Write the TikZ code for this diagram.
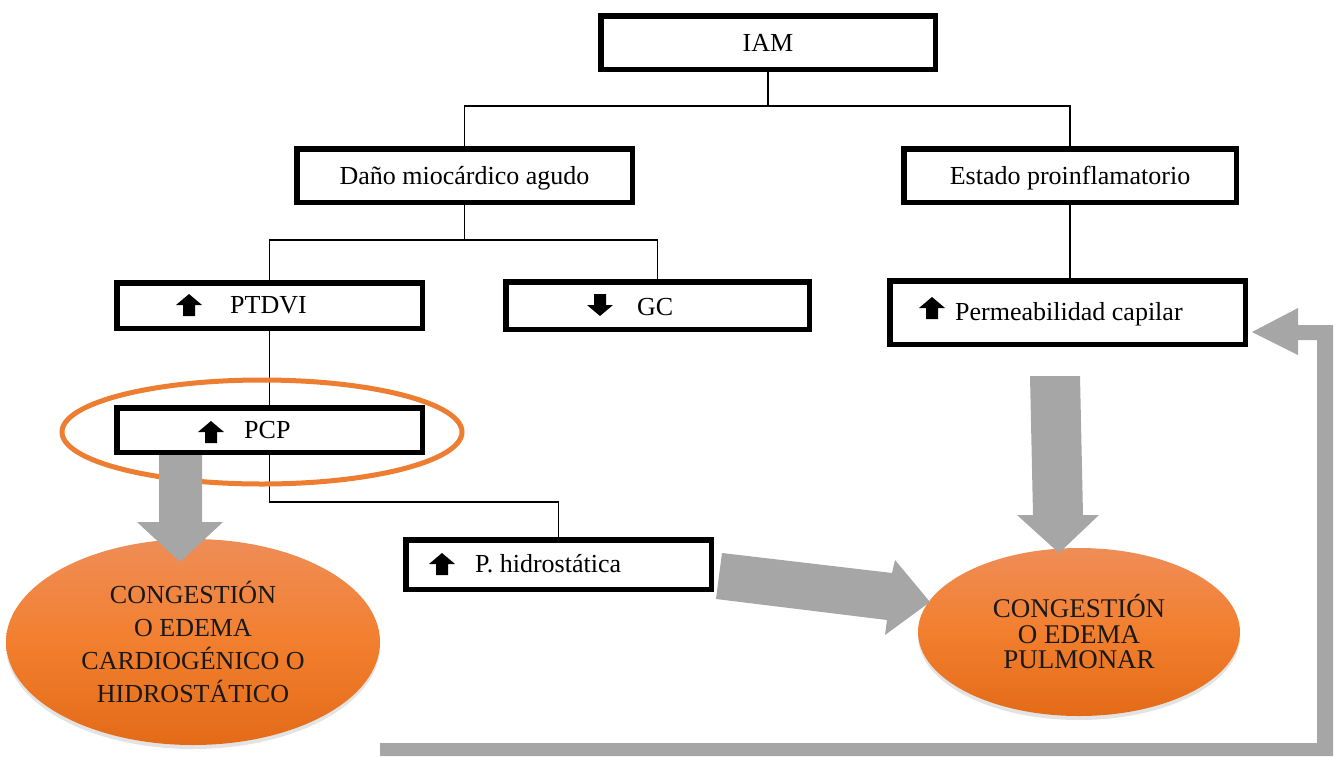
\documentclass[tikz,border=0pt]{standalone}
\usepackage{fontspec}
\setmainfont{Liberation Serif}
\usetikzlibrary{shapes.geometric,shadows,calc}
\definecolor{arrgray}{HTML}{A6A6A6}
\definecolor{ringc}{HTML}{ED7D31}
\definecolor{orTop}{HTML}{EF8D57}
\definecolor{orMid}{HTML}{F27F2E}
\definecolor{orBot}{HTML}{E36B18}
\begin{document}
\begin{tikzpicture}[x=1pt,y=-1pt,
  box/.style={draw=black, line width=5.5pt, fill=white, inner sep=0pt,
    font=\fontsize{26}{30}\selectfont, text height=18pt, text depth=0pt},
  lbl/.style={inner sep=0pt, anchor=base west, font=\fontsize{26}{30}\selectfont},
  conn/.style={draw=black, line width=1.6pt},
  blockarrow/.style={fill=arrgray, draw=none},
  cong/.style={ellipse, inner sep=0pt, draw=none, align=center, text=black!90,
    top color=orTop, bottom color=orBot, middle color=orMid,
    drop shadow={shadow xshift=0pt, shadow yshift=-4pt, opacity=0.22}},
  upar/.pic={\fill (0,-11) -- (13,0) -- (6,0) -- (6,11) -- (-6,11) -- (-6,0) -- (-13,0) -- cycle;},
  downar/.pic={\fill (0,11) -- (13,0) -- (6,0) -- (6,-11) -- (-6,-11) -- (-6,0) -- (-13,0) -- cycle;}
]
\useasboundingbox (0,0) rectangle (1336,756);

% orange result ellipses
\node[cong, minimum width=374pt, minimum height=206pt, font=\fontsize{26}{33}\selectfont]
  (cardio) at (193,642) {CONGESTIÓN\\O EDEMA\\CARDIOGÉNICO O\\HIDROSTÁTICO};
\node[cong, minimum width=322pt, minimum height=168pt, font=\fontsize{27}{25.5}\selectfont]
  (pulm) at (1079,632) {CONGESTIÓN\\O EDEMA\\PULMONAR};

% boxes
\node[box, minimum width=334.5pt, minimum height=53.5pt] (iam) at (768,42.5) {IAM};
\node[box, minimum width=335.5pt, minimum height=53.5pt] (dano) at (464.5,175.5) {Daño miocárdico agudo};
\node[box, minimum width=332.5pt, minimum height=53.5pt] (estado) at (1070,175.5) {Estado proinflamatorio};
\node[box, minimum width=305.5pt, minimum height=45.5pt] (ptdvi) at (269.5,305.5) {};
\node[box, minimum width=303.5pt, minimum height=47.5pt] (gc) at (657.5,305.5) {};
\node[box, minimum width=355.5pt, minimum height=63.5pt] (perm) at (1067.5,312.5) {};
\node[box, minimum width=305.5pt, minimum height=44.5pt] (pcp) at (269.5,430) {};
\node[box, minimum width=305.5pt, minimum height=49.5pt] (phid) at (558.5,564.5) {};

% box labels with arrow glyphs
\pic at (189,305) {upar};
\node[lbl] (ptdvi-t) at (230,313) {PTDVI};
\pic at (600,305) {downar};
\node[lbl] (gc-t) at (637,315) {GC};
\pic at (932,308) {upar};
\node[lbl] (perm-t) at (955,320) {Permeabilidad capilar};
\pic at (211,432) {upar};
\node[lbl] (pcp-t) at (244,438) {PCP};
\pic at (442,564) {upar};
\node[lbl] (phid-t) at (475,572) {P. hidrostática};

% tree connectors
\coordinate (bus1) at (0,106);
\coordinate (bus2) at (0,240);
\coordinate (bus3) at (0,502);
\draw[conn] (iam.south) -- (iam.south |- bus1);
\draw[conn] (dano.north) -- (dano.north |- bus1) -| (estado.north);
\draw[conn] (dano.south) -- (dano.south |- bus2);
\draw[conn] (ptdvi.north) -- (ptdvi.north |- bus2) -| (gc.north);
\draw[conn] (estado.south) -- (estado.south |- perm.north);
\draw[conn] (ptdvi.south) -- (pcp.north);
\draw[conn] (pcp.south) -- (pcp.south |- bus3) -| (phid.north);

% orange ring around PCP
\node[ellipse, draw=ringc, line width=5pt, minimum width=400pt, minimum height=104pt, inner sep=0pt]
  (ringn) at (262,432) {};

% grey block arrows
\fill[blockarrow] (159,455) -- (202,455) -- (202,522) -- (223,522) -- (180,562) -- (137,522) -- (159,522) -- cycle;
\fill[blockarrow] (1030,376) -- (1080,376) -- (1083,515) -- (1099,515) -- (1059,553) -- (1017,515) -- (1033,515) -- cycle;
\fill[blockarrow] (722,553) -- (892,573) -- (895,560) -- (930,602) -- (885,635) -- (887,620) -- (716,599) -- cycle;
\fill[blockarrow] (380,743) -- (1317,743) -- (1317,340) -- (1298,340) -- (1298,355) -- (1252,332)
  -- (1298,308) -- (1298,325) -- (1333,325) -- (1333,756) -- (380,756) -- cycle;
\end{tikzpicture}
\end{document}
